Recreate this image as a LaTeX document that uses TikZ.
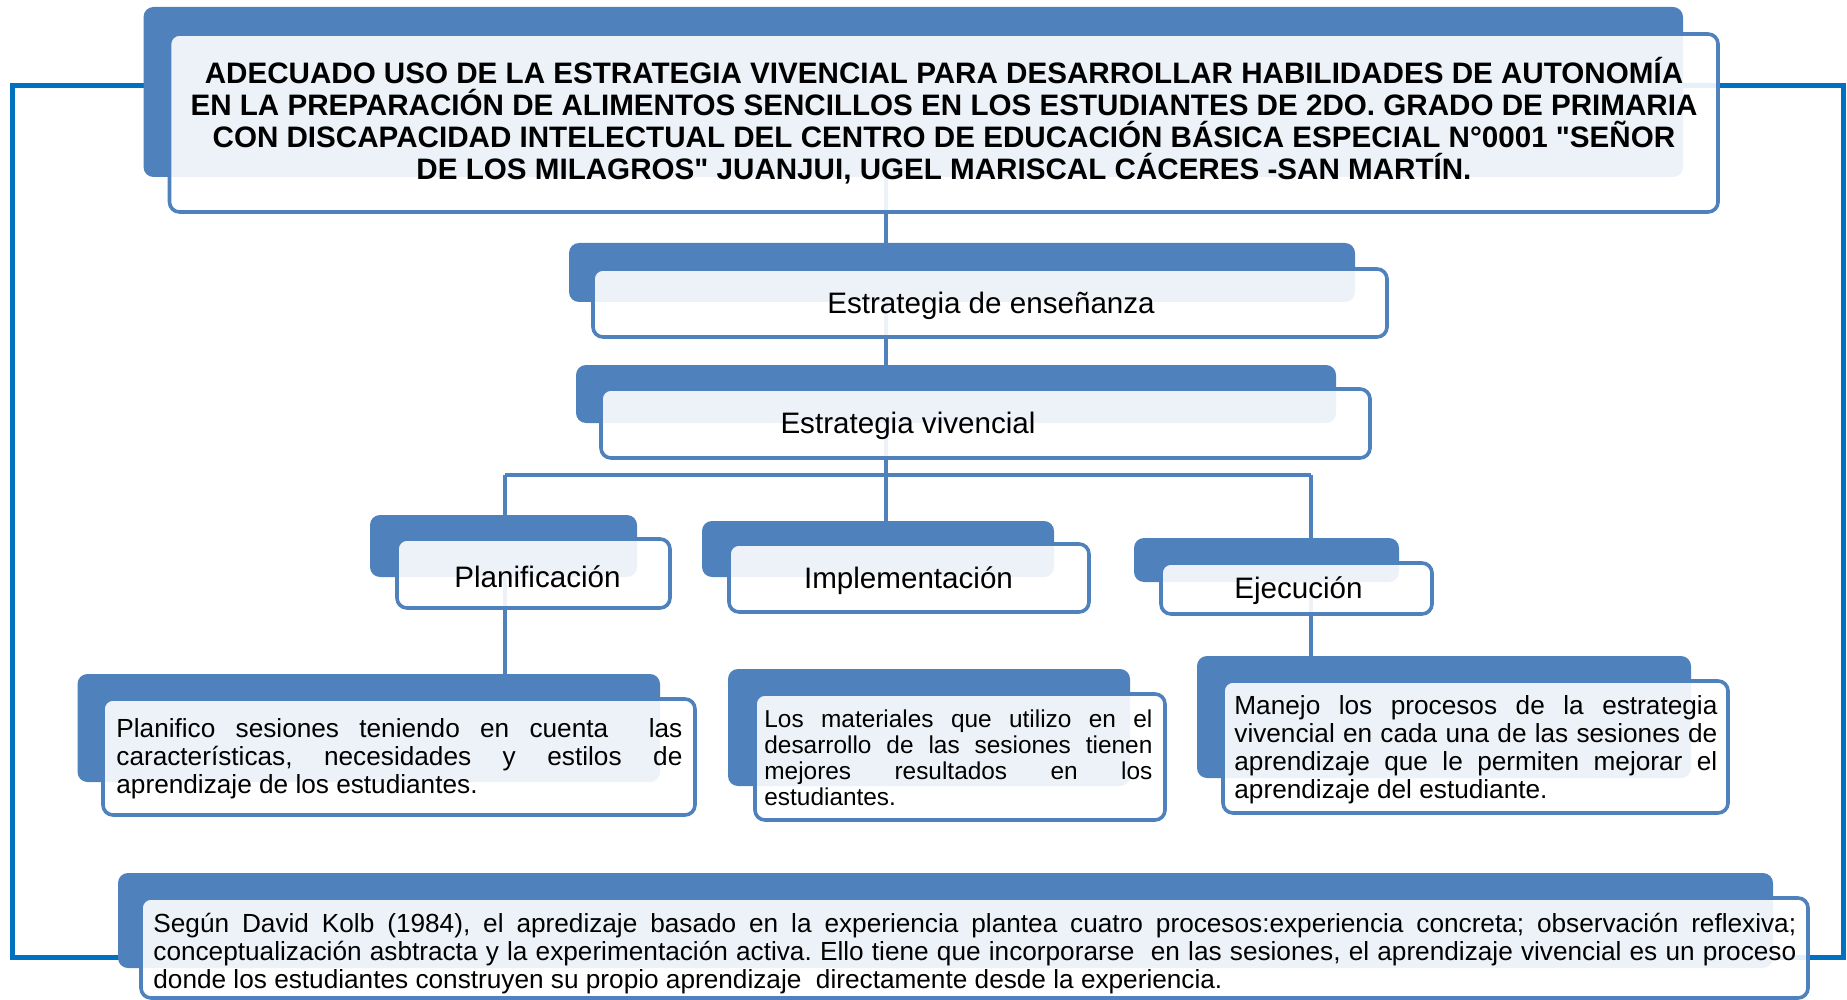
\documentclass[tikz,border=0pt]{standalone}
\usepackage{fontspec}
\setmainfont{Liberation Sans}
\frenchspacing
\definecolor{boxblue}{HTML}{4F81BD}
\definecolor{brk}{HTML}{0070C0}
\pgfdeclarelayer{bg}
\pgfsetlayers{bg,main}
\tikzset{
 backbox/.style={fill=boxblue, rounded corners=5pt, inner sep=0pt, outer sep=0pt},
 frontbox/.style={draw=boxblue, line width=1.8pt, fill=white, fill opacity=0.9, rounded corners=5pt, inner sep=0pt, outer sep=0pt},
 conn/.style={draw=boxblue, line width=2.2pt},
 brack/.style={draw=brk, line width=2.5pt},
 lbl/.style={inner sep=0pt, font=\fontsize{14.8}{16}\selectfont},
 desc/.style={inner sep=0pt, align=left, anchor=west, font=\fontsize{13.1}{14}\selectfont},
 ttl/.style={inner sep=0pt, align=center, font=\bfseries\fontsize{14.8}{16}\selectfont},
}
\newcommand{\boxpair}[9]{%
 \node[backbox, minimum width={(#4-#2)*0.5pt}, minimum height={(#5-#3)*0.5pt}] (#1b) at ({(#2+#4)/2},{(#3+#5)/2}) {};
 \node[frontbox, minimum width={(#8-#6)*0.5pt}, minimum height={(#9-#7)*0.5pt}] (#1f) at ({(#6+#8)/2},{(#7+#9)/2}) {};
}
\newcommand{\jl}[2]{\makebox[#1][s]{#2}}
\begin{document}
\begin{tikzpicture}[x=0.5pt,y=-0.5pt]
\useasboundingbox (0,0) rectangle (1847,1000);
% boxes
\boxpair{t}{143.5}{7}{1683}{177}{169.5}{34}{1718}{212}
\boxpair{e}{569}{243}{1355}{302}{593}{269}{1387}{337}
\boxpair{v}{576}{365}{1336}{423}{601}{389}{1370}{458}
\boxpair{p}{370}{515}{637}{577}{397}{539}{670}{608}
\boxpair{i}{702}{521}{1054}{577}{729}{544}{1089}{612}
\boxpair{x}{1134}{538}{1399}{582}{1161}{563}{1432}{614}
\boxpair{pd}{77.5}{674}{660}{782}{103}{699}{695}{815}
\boxpair{id}{728}{669}{1130}{786}{755}{694}{1165}{820}
\boxpair{xd}{1197}{656}{1691}{778}{1223}{681}{1728}{813}
\boxpair{k}{118}{873}{1773}{968}{141}{898}{1808}{998}
% texts
\node[ttl] (title) at (944,120.5) {ADECUADO USO DE LA ESTRATEGIA VIVENCIAL PARA DESARROLLAR HABILIDADES DE AUTONOMÍA\\
EN LA PREPARACIÓN DE ALIMENTOS SENCILLOS EN LOS ESTUDIANTES DE 2DO. GRADO DE PRIMARIA\\
CON DISCAPACIDAD INTELECTUAL DEL CENTRO DE EDUCACIÓN BÁSICA ESPECIAL N°0001 \textquotedbl SEÑOR\\
DE LOS MILAGROS\textquotedbl{} JUANJUI, UGEL MARISCAL CÁCERES -SAN MARTÍN.};
\node[lbl] (ens) at (991,305.5) {Estrategia de enseñanza};
\node[lbl] (viv) at (908,426) {Estrategia vivencial};
\node[lbl] (pla) at (537.5,577) {Planificación};
\node[lbl] (imp) at (908.5,580.5) {Implementación};
\node[lbl] (eje) at (1298.5,590.5) {Ejecución};
\node[desc] (pdt) at (116,759) {\jl{283pt}{Planifico sesiones teniendo en cuenta \ las}\\
\jl{283pt}{características, necesidades y estilos de}\\
aprendizaje de los estudiantes.};
\node[desc, font=\fontsize{12.2}{13}\selectfont] (idt) at (764,757.5) {\jl{194pt}{Los materiales que utilizo en el}\\
\jl{194pt}{desarrollo de las sesiones tienen}\\
\jl{194pt}{mejores resultados en los}\\
estudiantes.};
\node[desc] (xdt) at (1234,749.5) {\jl{241.5pt}{Manejo los procesos de la estrategia}\\
\jl{241.5pt}{vivencial en cada una de las sesiones de}\\
\jl{241.5pt}{aprendizaje que le permiten mejorar el}\\
aprendizaje del estudiante.};
\node[desc] (kt) at (153,954) {\jl{821.5pt}{Según David Kolb (1984), el apredizaje basado en la experiencia plantea cuatro procesos:experiencia concreta; observación reflexiva;}\\
\jl{821.5pt}{conceptualización asbtracta y la experimentación activa. Ello tiene que incorporarse \ en las sesiones, el aprendizaje vivencial es un proceso}\\
donde los estudiantes construyen su propio aprendizaje \ directamente desde la experiencia.};
% connectors
\coordinate (spine) at (886,0);
\coordinate (busL) at (505,475);
\coordinate (busM) at (886,475);
\coordinate (busR) at (1311,475);
\coordinate (bl1) at (12,86);
\coordinate (bl2) at (12,957);
\coordinate (br1) at (1843,86);
\coordinate (br2) at (1843,957);
\begin{pgfonlayer}{bg}
\fill[white] (0,0) rectangle (1847,1000);
\draw[conn] (tf.center -| spine) -- (busM);
\draw[conn] (busL) -- (busR);
\draw[conn] (busM) -- (ib.center -| spine);
\draw[conn] (busL) -- (pdb.center -| busL);
\draw[conn] (busR) -- (xdb.center -| busR);
\draw[brack] (tb.center |- bl1) -- (bl1) -- (bl2) -- (kb.center |- bl2);
\draw[brack] (tf.center |- br1) -- (br1) -- (br2) -- (kf.center |- br2);
\end{pgfonlayer}
\end{tikzpicture}
\end{document}
